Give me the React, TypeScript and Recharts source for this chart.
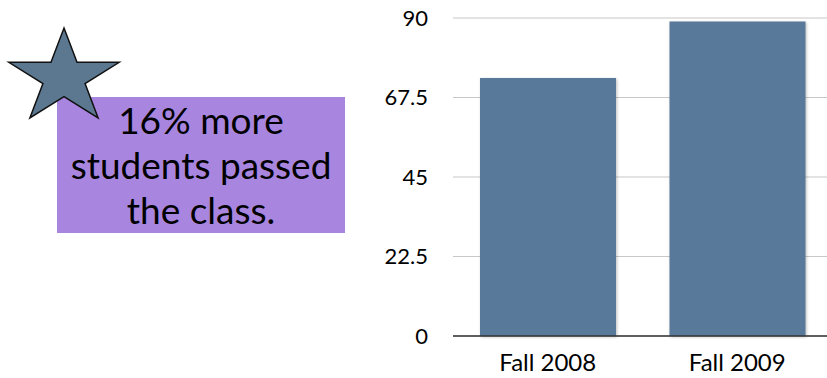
import { BarChart, Bar, XAxis, YAxis, CartesianGrid } from 'recharts';

const terms = ['Fall 2008', 'Fall 2009'];
const passed = [73, 89];
const yTicks = [0, 22.5, 45, 67.5, 90];
const callout = ['16% more', 'students passed', 'the class.'];

const data = terms.map((term, i) => ({ term, passed: passed[i] }));

const FONT = 'Lato, "Open Sans", sans-serif';

// squashed five-point star, drawn over the box corner
function starPoints(cx: number, cy: number, rx: number, ry: number) {
  const pts: string[] = [];
  for (let i = 0; i < 10; i++) {
    const a = -Math.PI / 2 + (i * Math.PI) / 5;
    const k = i % 2 === 0 ? 1 : 0.382;
    pts.push(`${cx + Math.cos(a) * rx * k},${cy + Math.sin(a) * ry * k}`);
  }
  return pts.join(' ');
}

export default function App() {
  return (
    <div style={{ position: 'absolute', left: 0, top: 0, width: 827, height: 378, overflow: 'hidden', background: '#fff' }}>
      <div style={{ position: 'absolute', left: 0, top: 0 }}>
        <BarChart width={832} height={378} data={data} margin={{ top: 18, right: 0, bottom: 0, left: 0 }}>
          <CartesianGrid vertical={false} stroke="#c8c8c8" strokeWidth={1.2} />
          <XAxis
            dataKey="term"
            height={42}
            tickLine={false}
            tickSize={0}
            tickMargin={18}
            axisLine={{ stroke: '#333', strokeWidth: 1.5 }}
            tick={{ fontSize: 24, fill: '#000', fontFamily: FONT }}
          />
          <YAxis
            width={453}
            domain={[0, 90]}
            ticks={yTicks}
            axisLine={false}
            tickLine={false}
            tickSize={0}
            tickMargin={25}
            tick={{ fontSize: 22, fill: '#000', fontFamily: FONT }}
          />
          <Bar
            dataKey="passed"
            fill="#58799a"
            barSize={136}
            isAnimationActive={false}
            style={{ filter: 'drop-shadow(1px 1px 1.5px rgba(0,0,0,0.25))' }}
          />
        </BarChart>
      </div>
      <div
        style={{
          position: 'absolute',
          left: 57,
          top: 97,
          width: 288,
          height: 136,
          background: '#a886e0',
          fontFamily: FONT,
          fontSize: 37,
          lineHeight: '45px',
          color: '#000',
          textAlign: 'center',
        }}
      >
        {callout.map(line => (
          <div key={line}>{line}</div>
        ))}
      </div>
      <svg width={130} height={130} style={{ position: 'absolute', left: 0, top: 20 }}>
        <polygon
          points={starPoints(64, 57.7, 58, 49.7)}
          fill="#5b7890"
          stroke="#111"
          strokeWidth={1.5}
          strokeLinejoin="miter"
        />
      </svg>
    </div>
  );
}
